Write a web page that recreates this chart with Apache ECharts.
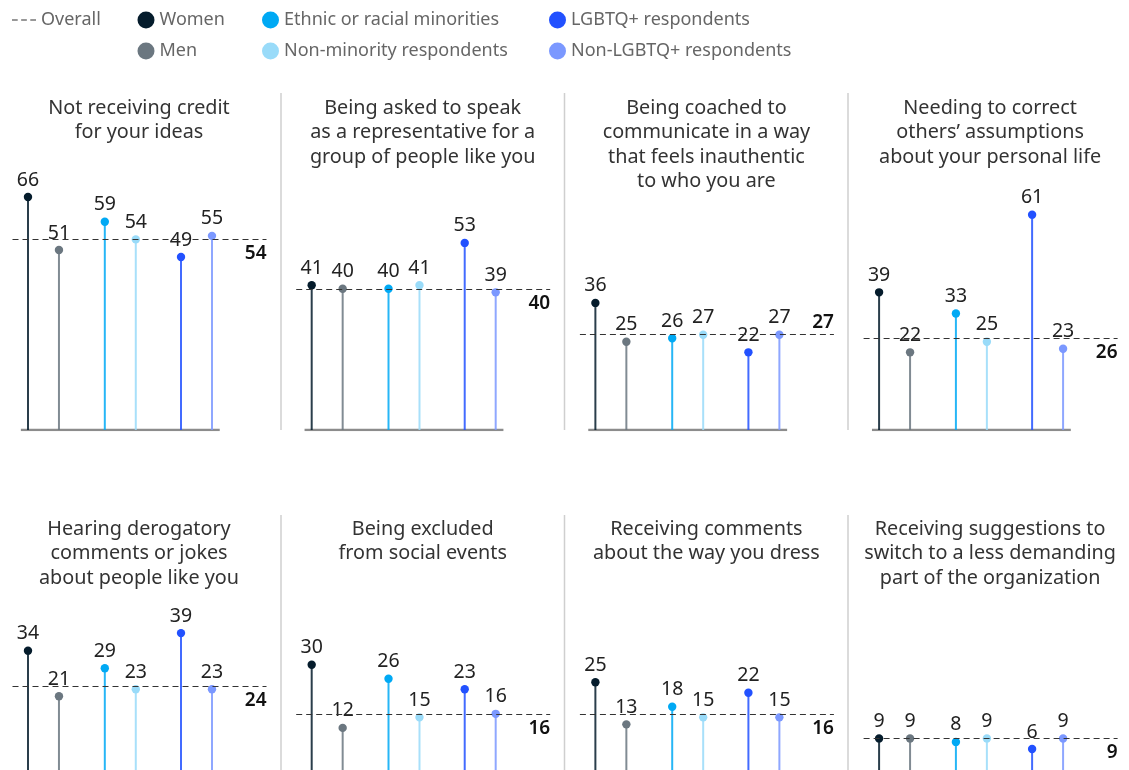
<!DOCTYPE html>
<html>
<head>
<meta charset="utf-8">
<script src="https://cdn.jsdelivr.net/npm/echarts@6/dist/echarts.min.js"></script>
<style>
  html, body { margin: 0; padding: 0; background: #fff; }
  #chart { width: 1129px; height: 770px; }
</style>
</head>
<body>
<div id="chart"></div>
<script>
// groups, in the order they appear in each panel
const groups = ['Women', 'Men', 'Ethnic or racial minorities', 'Non-minority respondents', 'LGBTQ+ respondents', 'Non-LGBTQ+ respondents'];
const groupColors = ['#051c2c', '#6b7780', '#00a9f4', '#99dbf9', '#2251ff', '#7b98ff'];

const titles = [
    'Not receiving credit\nfor your ideas',
    'Being asked to speak\nas a representative for a\ngroup of people like you',
    'Being coached to\ncommunicate in a way\nthat feels inauthentic\nto who you are',
    'Needing to correct\nothers\u2019 assumptions\nabout your personal life',
    'Hearing derogatory\ncomments or jokes\nabout people like you',
    'Being excluded\nfrom social events',
    'Receiving comments\nabout the way you dress',
    'Receiving suggestions to\nswitch to a less demanding\npart of the organization'
];

// one array per panel: Women, Men, Ethnic, Non-minority, LGBTQ+, Non-LGBTQ+
const credit = [66, 51, 59, 54, 49, 55];
const representative = [41, 40, 40, 41, 53, 39];
const coached = [36, 25, 26, 27, 22, 27];
const assumptions = [39, 22, 33, 25, 61, 23];
const derogatory = [34, 21, 29, 23, 39, 23];
const excluded = [30, 12, 26, 15, 23, 16];
const dress = [25, 13, 18, 15, 22, 15];
const lessDemanding = [9, 9, 8, 9, 6, 9];
const panelValues = [credit, representative, coached, assumptions, derogatory, excluded, dress, lessDemanding];

const overall = [54, 40, 27, 26, 24, 16, 16, 9];
const overallLabelAbove = [false, false, true, false, false, false, false, false];

// x slots of the stems inside a panel (pairs)
const slots = [0, 1, 2.48, 3.48, 4.94, 5.94];

const FONT = 'Noto Sans';
const colStep = 283.7;
const unitPx = 3.53;

const chart = echarts.init(document.getElementById('chart'));

const grids = [], xAxes = [], yAxes = [], series = [], titleList = [], graphics = [];

for (let p = 0; p < 8; p++) {
    const col = p % 4;
    const row = Math.floor(p / 4);
    const baseY = row === 0 ? 430 : 772;
    grids.push({
        left: 12.5 + colStep * col,
        width: 254,
        top: baseY - 100 * unitPx,
        height: 100 * unitPx
    });
    xAxes.push({ type: 'value', gridIndex: p, min: -0.5, max: 7.7, show: false });
    yAxes.push({ type: 'value', gridIndex: p, min: 0, max: 100, show: false });

    titleList.push({
        text: titles[p],
        left: 134 + colStep * col,
        top: row === 0 ? 91 : 512,
        textAlign: 'center',
        textStyle: { fontFamily: FONT, fontSize: 19.8, fontWeight: 'normal', color: '#333', lineHeight: 24.5 }
    });

    // baseline (the lower row is cut off below the picture)
    if (row === 0) {
        series.push({
            type: 'line',
            xAxisIndex: p, yAxisIndex: p,
            data: [[-0.23, 0], [6.19, 0]],
            symbol: 'none',
            silent: true,
            lineStyle: { color: '#8c8c8c', width: 2.5 },
            z: 1
        });
    }

    // overall dashed line
    series.push({
        name: 'Overall',
        type: 'line',
        xAxisIndex: p, yAxisIndex: p,
        data: [],
        itemStyle: { color: '#333' },
        markLine: {
            silent: true,
            symbol: 'none',
            lineStyle: { color: '#333', width: 1.2, type: [6, 4] },
            label: {
                position: overallLabelAbove[p] ? 'insideEndTop' : 'insideEndBottom',
                distance: overallLabelAbove[p] ? [0, 3] : [0, 5],
                formatter: String(overall[p]),
                fontFamily: FONT, fontSize: 19, color: '#111', fontWeight: 600
            },
            data: [{ yAxis: overall[p] }]
        },
        z: 2
    });

    panelValues[p].forEach(function (v, g) {
        series.push({
            name: groups[g],
            type: 'custom',
            xAxisIndex: p, yAxisIndex: p,
            itemStyle: { color: groupColors[g] },
            data: [[slots[g], v]],
            z: 3,
            renderItem: function (params, api) {
                const top = api.coord([api.value(0), api.value(1)]);
                const base = api.coord([api.value(0), 0]);
                return {
                    type: 'group',
                    children: [
                        { type: 'line', shape: { x1: top[0], y1: top[1], x2: base[0], y2: base[1] },
                          style: { stroke: groupColors[g], lineWidth: 2, opacity: 0.85 } },
                        { type: 'circle', shape: { cx: top[0], cy: top[1], r: 4.2 },
                          style: { fill: groupColors[g] } },
                        { type: 'text', x: top[0], y: top[1] - 7,
                          style: { text: String(api.value(1)), align: 'center', verticalAlign: 'bottom',
                                   font: '19.5px "' + FONT + '"', fill: '#222' } }
                    ]
                };
            }
        });
    });
}

// panel separators
[281, 564.5, 848].forEach(function (x) {
    graphics.push({ type: 'line', shape: { x1: x, y1: 93, x2: x, y2: 430 }, style: { stroke: '#cfcfcf', lineWidth: 1.5 }, silent: true });
    graphics.push({ type: 'line', shape: { x1: x, y1: 515, x2: x, y2: 770 }, style: { stroke: '#cfcfcf', lineWidth: 1.5 }, silent: true });
});

const legendText = { fontFamily: FONT, fontSize: 18, color: '#666' };

chart.setOption({
    animation: false,
    title: titleList,
    grid: grids,
    xAxis: xAxes,
    yAxis: yAxes,
    graphic: graphics,
    legend: [
        { left: 7, top: 6, itemWidth: 24, itemHeight: 17, itemGap: 12, selectedMode: false, textStyle: legendText,
          data: [{ name: 'Overall', icon: 'path://M0,0h5v1h-5zM8,0h5v1h-5zM16,0h5v1h-5z' }] },
        { left: 132.5, top: 6, orient: 'vertical', itemWidth: 17, itemHeight: 17, itemGap: 13, icon: 'circle',
          selectedMode: false, textStyle: legendText, data: [groups[0], groups[1]] },
        { left: 257, top: 6, orient: 'vertical', itemWidth: 17, itemHeight: 17, itemGap: 13, icon: 'circle',
          selectedMode: false, textStyle: legendText, data: [groups[2], groups[3]] },
        { left: 544, top: 6, orient: 'vertical', itemWidth: 17, itemHeight: 17, itemGap: 13, icon: 'circle',
          selectedMode: false, textStyle: legendText, data: [groups[4], groups[5]] }
    ],
    series: series
});
</script>
</body>
</html>
